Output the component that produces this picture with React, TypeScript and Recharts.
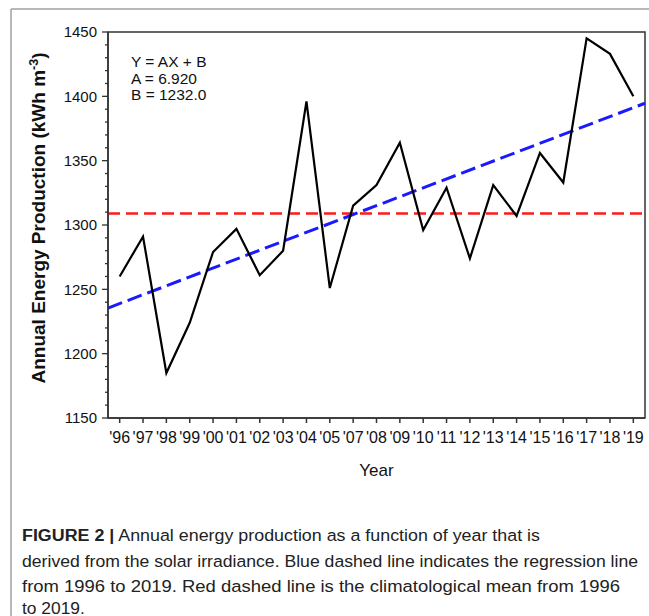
import React from 'react';
import {
  LineChart,
  Line,
  XAxis,
  YAxis,
  ReferenceLine,
  ReferenceArea,
  Customized
} from 'recharts';

// Year labels on the x axis (2006 has no record)
const YEARS = [
  "'96", "'97", "'98", "'99", "'00", "'01", "'02", "'03", "'04", "'05", "'07", "'08",
  "'09", "'10", "'11", "'12", "'13", "'14", "'15", "'16", "'17", "'18", "'19"
];

// Annual energy production, kWh m^-3
const PRODUCTION = [
  1260, 1291, 1185, 1224, 1279, 1297, 1261, 1280, 1396, 1251, 1315, 1331,
  1364, 1296, 1329, 1274, 1331, 1307, 1356, 1333, 1445, 1433, 1400
];

const Y_MAJOR = [1150, 1200, 1250, 1300, 1350, 1400, 1450];
const Y_MINOR_STEP = 10;

// regression Y = A*X + B, X = year index starting at 1
const SLOPE_A = 6.92;
const INTERCEPT_B = 1232.0;
const CLIMATE_MEAN = 1309;

const data = YEARS.map((label, i) => ({ x: i + 1, label, value: PRODUCTION[i] }));
const xTicks = data.map((d) => d.x);
const X_MIN = 0.5;
const X_MAX = YEARS.length + 0.5;

const yTicks: number[] = [];
for (let v = Y_MAJOR[0]; v <= Y_MAJOR[Y_MAJOR.length - 1]; v += Y_MINOR_STEP) yTicks.push(v);

const AXIS = '#333';
const FONT = 'Liberation Sans, Arial, sans-serif';

const YTick = (props: any) => {
  const { x, y, payload } = props;
  const major = Y_MAJOR.includes(payload.value);
  return (
    <g>
      <line x1={x - (major ? 6 : 3)} x2={x} y1={y} y2={y} stroke={AXIS} strokeWidth={1.3} />
      {major && (
        <text x={x - 11} y={y} dy="0.36em" textAnchor="end" fontSize={15} fontFamily={FONT} fill="#111">
          {payload.value}
        </text>
      )}
    </g>
  );
};

const Annotations = () => (
  <g fontFamily={FONT} fill="#111">
    <text fontSize={15.5}>
      <tspan x={131} y={67}>Y = AX + B</tspan>
      <tspan x={131} y={83.5}>{`A = ${SLOPE_A.toFixed(3)}`}</tspan>
      <tspan x={131} y={100}>{`B = ${INTERCEPT_B.toFixed(1)}`}</tspan>
    </text>
    <text
      x={45}
      y={218}
      transform="rotate(-90 45 218)"
      textAnchor="middle"
      fontSize={19}
      fontWeight="bold"
    >
      Annual Energy Production (kWh m
      <tspan fontSize={12.5} dy={-7}>-3</tspan>
      <tspan dy={7}>)</tspan>
    </text>
  </g>
);

const Caption = () => (
  <svg width={649} height={616} style={{ position: 'absolute', left: 0, top: 0, pointerEvents: 'none' }}>
    <line x1={11} y1={9} x2={649} y2={9} stroke="#a0a0a0" strokeWidth={1.5} />
    <line x1={11} y1={9} x2={11} y2={616} stroke="#a0a0a0" strokeWidth={1.5} />
    <g fontFamily={FONT} fontSize={17.4} fill="#222">
      <text x={22} y={541} textLength={518} lengthAdjust="spacingAndGlyphs">
        <tspan fontWeight="bold">FIGURE 2 |</tspan> Annual energy production as a function of year that is
      </text>
      <text x={22} y={566.5} textLength={616} lengthAdjust="spacingAndGlyphs">
        derived from the solar irradiance. Blue dashed line indicates the regression line
      </text>
      <text x={22} y={592} textLength={598} lengthAdjust="spacingAndGlyphs">
        from 1996 to 2019. Red dashed line is the climatological mean from 1996
      </text>
      <text x={22} y={613.5}>to 2019.</text>
    </g>
  </svg>
);

export default function App() {
  return (
    <div style={{ position: 'absolute', left: 0, top: 0, width: 649, height: 616, background: '#fff' }}>
      <LineChart width={649} height={480} data={data} margin={{ top: 32, right: 4, bottom: 0, left: 48 }}>
        <XAxis
          type="number"
          dataKey="x"
          domain={[X_MIN, X_MAX]}
          ticks={xTicks}
          interval={0}
          tickFormatter={(v: number) => YEARS[v - 1]}
          height={62}
          tickSize={5}
          tickMargin={9}
          stroke={AXIS}
          strokeWidth={1.5}
          tick={{ fontSize: 16, fontFamily: FONT, fill: '#111' }}
          label={{ value: 'Year', position: 'insideBottom', offset: 4, fontSize: 17, fontFamily: FONT, fill: '#111' }}
        />
        <YAxis
          type="number"
          domain={[Y_MAJOR[0], Y_MAJOR[Y_MAJOR.length - 1]]}
          ticks={yTicks}
          interval={0}
          width={60}
          tickSize={0}
          tickMargin={0}
          tickLine={false}
          tick={<YTick />}
          stroke={AXIS}
          strokeWidth={1.5}
        />
        <ReferenceArea
          x1={X_MIN}
          x2={X_MAX}
          y1={Y_MAJOR[0]}
          y2={Y_MAJOR[Y_MAJOR.length - 1]}
          fill="none"
          stroke={AXIS}
          strokeWidth={1.5}
          fillOpacity={0}
        />
        <ReferenceLine y={CLIMATE_MEAN} stroke="#ff1a1a" strokeWidth={2.5} strokeDasharray="12 6" />
        <ReferenceLine
          segment={[
            { x: X_MIN, y: INTERCEPT_B + SLOPE_A * X_MIN },
            { x: X_MAX, y: INTERCEPT_B + SLOPE_A * X_MAX }
          ]}
          stroke="#1a1aff"
          strokeWidth={3}
          strokeDasharray="15 6"
        />
        <Line
          type="linear"
          dataKey="value"
          stroke="#000"
          strokeWidth={2.2}
          dot={false}
          isAnimationActive={false}
        />
        <Customized component={Annotations} />
      </LineChart>
      <Caption />
    </div>
  );
}
